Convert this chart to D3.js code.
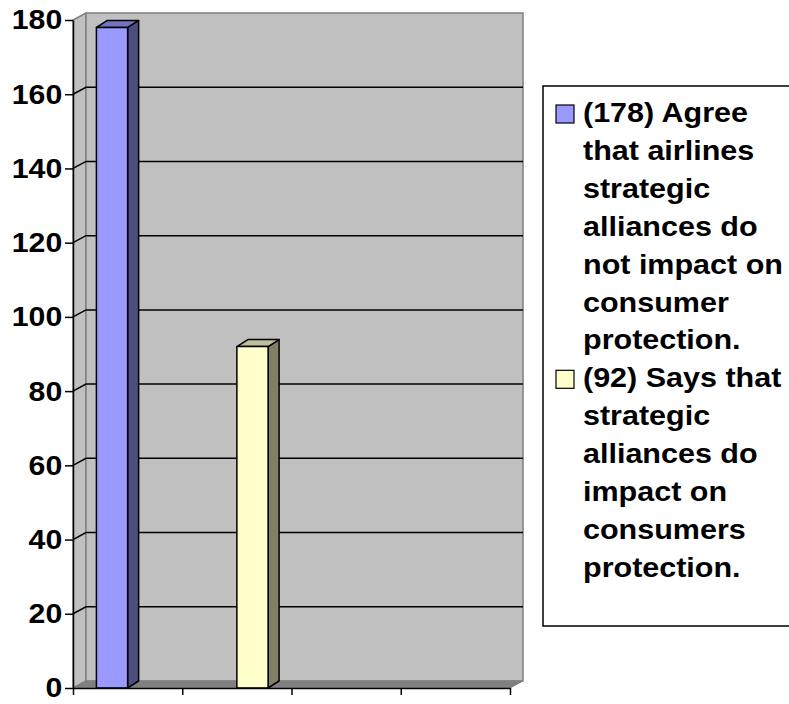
<!DOCTYPE html>
<html>
<head>
<meta charset="utf-8">
<script src="https://cdn.jsdelivr.net/npm/d3@7"></script>
<style>
    body { margin: 0; background: #fff; }
    text { font-family: "Liberation Sans", Arial, sans-serif; font-weight: bold; }
</style>
</head>
<body>
<div id="app"></div>
<script>
// chart data
var categories = ['c1', 'c2', 'c3', 'c4'];
var seriesNames = ['(178) Agree that airlines strategic alliances do not impact on consumer protection.',
    '(92) Says that strategic alliances do impact on consumers protection.'];
var seriesValues = [
    [178, null, null, null],
    [null, 92, null, null]
];
var legendLines = [
    ['(178) Agree', 'that airlines', 'strategic', 'alliances do', 'not impact on', 'consumer', 'protection.'],
    ['(92) Says that', 'strategic', 'alliances do', 'impact on', 'consumers', 'protection.']
];
var yTicks = [0, 20, 40, 60, 80, 100, 120, 140, 160, 180];

var width = 789,
    height = 704,
    x0 = 73,
    x1 = 510,
    yBottom = 688,
    yTop = 20,
    wallDx = 13,
    wallDy = -7,
    barDx = 11,
    barDy = -7;

var fronts = ['#9999FF', '#FFFFCC'],
    sides = ['#4D4D80', '#808066'],
    tops = ['#7373BF', '#BFBF99'];

var svg = d3.select('#app')
    .append('svg')
    .attr('width', width)
    .attr('height', height);

var x = d3.scaleBand().domain(categories).range([x0, x1]);
var xInner = d3.scaleBand().domain([0, 1]).range([0, x.bandwidth()]).paddingOuter(0.75);
var y = d3.scaleLinear().domain([0, 180]).range([yBottom, yTop]);

// walls and floor
svg.append('polygon')
    .attr('points', [[x0, yBottom], [x0, yTop], [x0 + wallDx, yTop + wallDy], [x0 + wallDx, yBottom + wallDy]].join(' '))
    .style('fill', '#C0C0C0')
    .style('stroke', '#808080')
    .style('stroke-width', 1.5);

svg.append('rect')
    .attr('x', x0 + wallDx)
    .attr('y', yTop + wallDy)
    .attr('width', x1 - x0)
    .attr('height', yBottom - yTop)
    .style('fill', '#C0C0C0')
    .style('stroke', '#808080')
    .style('stroke-width', 1.5);

svg.append('polygon')
    .attr('points', [[x0, yBottom], [x0 + wallDx, yBottom + wallDy], [x1 + wallDx, yBottom + wallDy], [x1, yBottom]].join(' '))
    .style('fill', '#808080')
    .style('stroke', '#808080');

// gridlines on the side wall and back wall
var gridTicks = yTicks.filter(function (d) { return d > 0 && d < 180; });

svg.selectAll('.grid')
    .data(gridTicks)
    .enter()
    .append('polyline')
    .attr('class', 'grid')
    .attr('points', function (d) {
        return [[x0, y(d)], [x0 + wallDx, y(d) + wallDy], [x1 + wallDx, y(d) + wallDy]].join(' ');
    })
    .style('fill', 'none')
    .style('stroke', '#000')
    .style('stroke-width', 1.5);

// bars
var bars = [];
seriesValues.forEach(function (vals, s) {
    vals.forEach(function (v, i) {
        if (v != null) bars.push({ s: s, cat: categories[i], value: v });
    });
});

var barG = svg.selectAll('.bar')
    .data(bars)
    .enter()
    .append('g')
    .attr('class', 'bar');

function bx(d) { return x(d.cat) + xInner(d.s); }

barG.append('polygon')
    .attr('points', function (d) {
        var l = bx(d), r = l + xInner.bandwidth(), t = y(d.value);
        return [[r, t], [r + barDx, t + barDy], [r + barDx, y(0) + barDy], [r, y(0)]].join(' ');
    })
    .style('fill', function (d) { return sides[d.s]; });

barG.append('polygon')
    .attr('points', function (d) {
        var l = bx(d), r = l + xInner.bandwidth(), t = y(d.value);
        return [[l, t], [l + barDx, t + barDy], [r + barDx, t + barDy], [r, t]].join(' ');
    })
    .style('fill', function (d) { return tops[d.s]; });

barG.append('rect')
    .attr('x', bx)
    .attr('y', function (d) { return y(d.value); })
    .attr('width', xInner.bandwidth())
    .attr('height', function (d) { return y(0) - y(d.value); })
    .style('fill', function (d) { return fronts[d.s]; });

barG.selectAll('polygon, rect')
    .style('stroke', '#000')
    .style('stroke-width', 1.5)
    .style('stroke-linejoin', 'round');

// axes
var yAxis = d3.axisLeft(y).tickValues(yTicks).tickSize(8).tickSizeOuter(0).tickPadding(2);
var yg = svg.append('g')
    .attr('transform', 'translate(' + x0 + ',0)')
    .call(yAxis);
yg.selectAll('text')
    .style('font-size', '28px')
    .style('fill', '#000')
    .attr('transform', 'scale(1.08,1)');

var xLin = d3.scaleLinear().domain([0, categories.length]).range([x0, x1]);
var xAxis = d3.axisBottom(xLin).tickValues(d3.range(categories.length + 1)).tickFormat('').tickSize(7).tickSizeOuter(0);
var xg = svg.append('g')
    .attr('transform', 'translate(0,' + yBottom + ')')
    .call(xAxis);

svg.selectAll('.domain, .tick line')
    .style('stroke', '#000')
    .style('stroke-width', 1.5);

// legend
svg.append('rect')
    .attr('x', 543)
    .attr('y', 86)
    .attr('width', 260)
    .attr('height', 540)
    .style('fill', '#fff')
    .style('stroke', '#000')
    .style('stroke-width', 1.5);

var lineH = 37.9, firstBase = 122, row = 0;
legendLines.forEach(function (lines, s) {
    svg.append('rect')
        .attr('x', 556)
        .attr('y', firstBase + row * lineH - 17)
        .attr('width', 18)
        .attr('height', 18)
        .style('fill', fronts[s])
        .style('stroke', '#000')
        .style('stroke-width', 1.2)
        .append('title').text(seriesNames[s]);
    lines.forEach(function (t) {
        svg.append('text')
            .attr('transform', 'translate(583,' + (firstBase + row * lineH) + ') scale(1.09,1)')
            .style('font-size', '28px')
            .style('fill', '#000')
            .text(t);
        row++;
    });
});
</script>
</body>
</html>
